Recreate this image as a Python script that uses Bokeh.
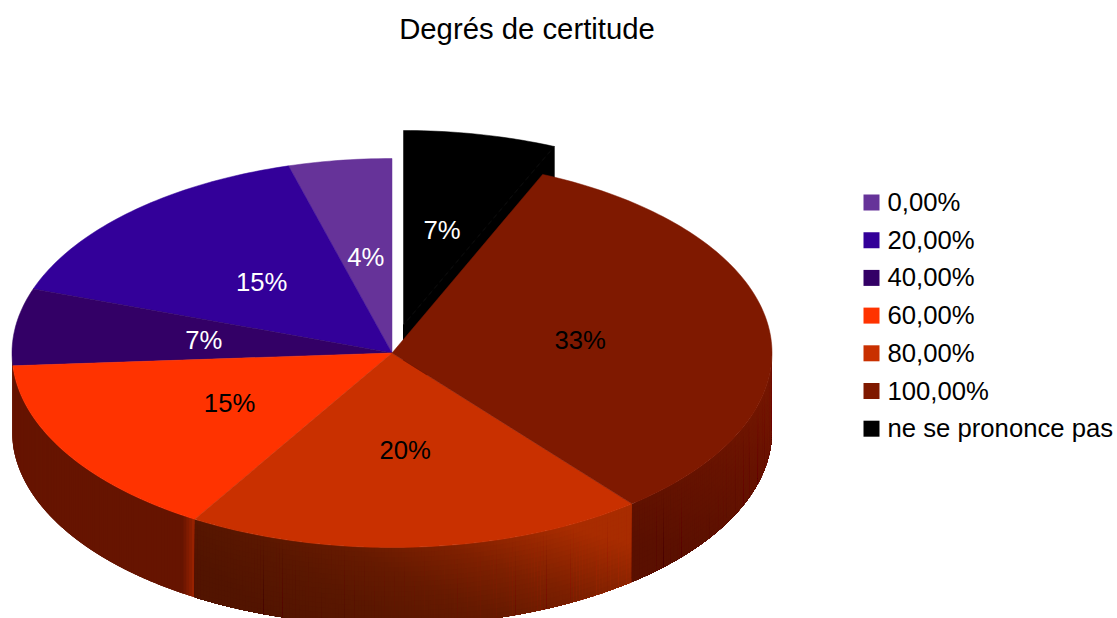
import math
from bokeh.core.properties import value
from bokeh.embed import file_html
from bokeh.models import Range1d
from bokeh.plotting import figure
from bokeh.resources import INLINE

TITLE = "Degrés de certitude"
categories = ["0,00%", "20,00%", "40,00%", "60,00%", "80,00%", "100,00%", "ne se prononce pas"]
shares = [4.4, 15.3, 6.4, 15.3, 19.6, 32.7, 6.5]
labels = ["4%", "15%", "7%", "15%", "20%", "33%", "7%"]
colors = ["#663399", "#330099", "#330066", "#ff3300", "#c93000", "#7f1900", "#000000"]
label_colors = ["white", "white", "white", "black", "black", "black", "white"]
offsets = [(0, 0)] * 6 + [(11.5, -28)]
# side shading: (angle in degrees, colour) stops, and the tilt of its bands in degrees
side_shades = {
    2: [(-180, "#661400"), (-170, "#661400")],
    3: [(-180, "#661400"), (-125, "#661400"), (-123.5, "#661400"), (-121.5, "#982200")],
    4: [(-121.5, "#521400"), (-100, "#5a1700"), (-85, "#661a00"), (-70, "#7e2000"), (-51, "#a82c00")],
    5: [(-51, "#5a1000"), (-25, "#661300"), (0, "#741700")],
}
side_tilt = {4: 12, 5: 12}

W, H = 1117, 618
CX, CY, RX, RY, DEPTH = 391.5, 352.5, 380, 194.5, 78
FONT = value("Liberation Sans")

p = figure(width=W, height=H, output_backend="svg", toolbar_location=None,
           x_range=Range1d(0, W), y_range=Range1d(H, 0),
           min_border=0, outline_line_color=None)
p.xaxis.visible = False
p.yaxis.visible = False
p.grid.visible = False
p.background_fill_color = "white"


def hexrgb(c):
    return [int(c[i:i + 2], 16) for i in (1, 3, 5)]


def shade(stops, a):
    a = max(stops[0][0], min(stops[-1][0], a))
    for (a0, c0), (a1, c1) in zip(stops, stops[1:]):
        if a0 <= a <= a1:
            t = (a - a0) / (a1 - a0) if a1 > a0 else 0
            rgb = [round(u + (v - u) * t) for u, v in zip(hexrgb(c0), hexrgb(c1))]
            return "#%02x%02x%02x" % tuple(rgb)
    return stops[-1][1]


total = sum(shares)
bounds = []
ang = 90.0
for s in shares:
    span = s / total * 360
    bounds.append((ang, ang + span))
    ang += span


def pt(a, dx=0, dy=0, r=1.0):
    t = math.radians(a)
    return CX + dx + r * RX * math.cos(t), CY + dy - r * RY * math.sin(t)


def draw_slice_side(i):
    a0, a1 = bounds[i]
    dx, dy = offsets[i]
    lo, hi = max(a0, 180), min(a1, 360)
    if hi <= lo:
        return
    tilt = side_tilt.get(i, 0)
    rows = 16 if tilt else 1
    # bands overlap their successor so that no antialiased seam shows
    n = max(2, int((hi - lo) / 0.5))
    step = (hi - lo) / n
    xs, ys, cs = [], [], []
    for k in range(n):
        u = lo + step * k
        v = min(hi, u + step * 3)
        arc = [pt(u + (v - u) * j / 4, dx, dy) for j in range(5)]
        for r in range(rows):
            t = r / rows
            c = shade(side_shades[i], u + step / 2 - 360 + tilt * (0.5 - (r + 0.5) / rows) * 2)
            xs.append([q[0] for q in arc] + [q[0] for q in reversed(arc)])
            ys.append([q[1] + DEPTH * t for q in arc] + [q[1] + DEPTH for q in reversed(arc)])
            cs.append(c)
    p.patches(xs, ys, fill_color=cs, line_color=None)


def draw_slice_top(i):
    a0, a1 = bounds[i]
    dx, dy = offsets[i]
    n = max(2, int((a1 - a0)))
    arc = [pt(a0 + (a1 - a0) * k / n, dx, dy) for k in range(n + 1)]
    cx, cy = CX + dx, CY + dy
    p.patch([cx] + [q[0] for q in arc], [cy] + [q[1] for q in arc],
            fill_color=colors[i], line_color=colors[i], line_width=0.5)


# exploded slice first: its wall is hidden behind the others
def draw_exploded_wall(i):
    a0, a1 = bounds[i]
    dx, dy = offsets[i]
    cx, cy = CX + dx, CY + dy
    x, y = pt(a0, dx, dy)
    p.patch([cx, x, x, cx], [cy, y, y + DEPTH, cy + DEPTH], fill_color=colors[i], line_color=colors[i])


draw_exploded_wall(6)
draw_slice_top(6)
for i in range(6):
    draw_slice_side(i)
for i in range(6):
    draw_slice_top(i)

lx, ly = [], []
for i, lab in enumerate(labels):
    a0, a1 = bounds[i]
    dx, dy = offsets[i]
    x, y = pt((a0 + a1) / 2, dx, dy, 0.5)
    lx.append(x)
    ly.append(y)
p.text(lx, ly, text=labels, text_color=label_colors, text_font=FONT, text_font_size="25.7px",
       text_align="center", text_baseline="middle")

p.text([526.5], [27.5], text=[TITLE], text_color="black", text_font=FONT, text_font_size="29.3px",
       text_align="center", text_baseline="middle")

leg_y = [202 + k * 37.7 for k in range(len(categories))]
p.rect([871] * len(categories), leg_y, width=16, height=16, fill_color=colors, line_color=None)
p.text([887] * len(categories), [y - 0.5 for y in leg_y], text=categories, text_color="black", text_font=FONT,
       text_font_size="25.7px", text_align="left", text_baseline="middle")

open("out.html", "w").write(file_html(p, INLINE))
